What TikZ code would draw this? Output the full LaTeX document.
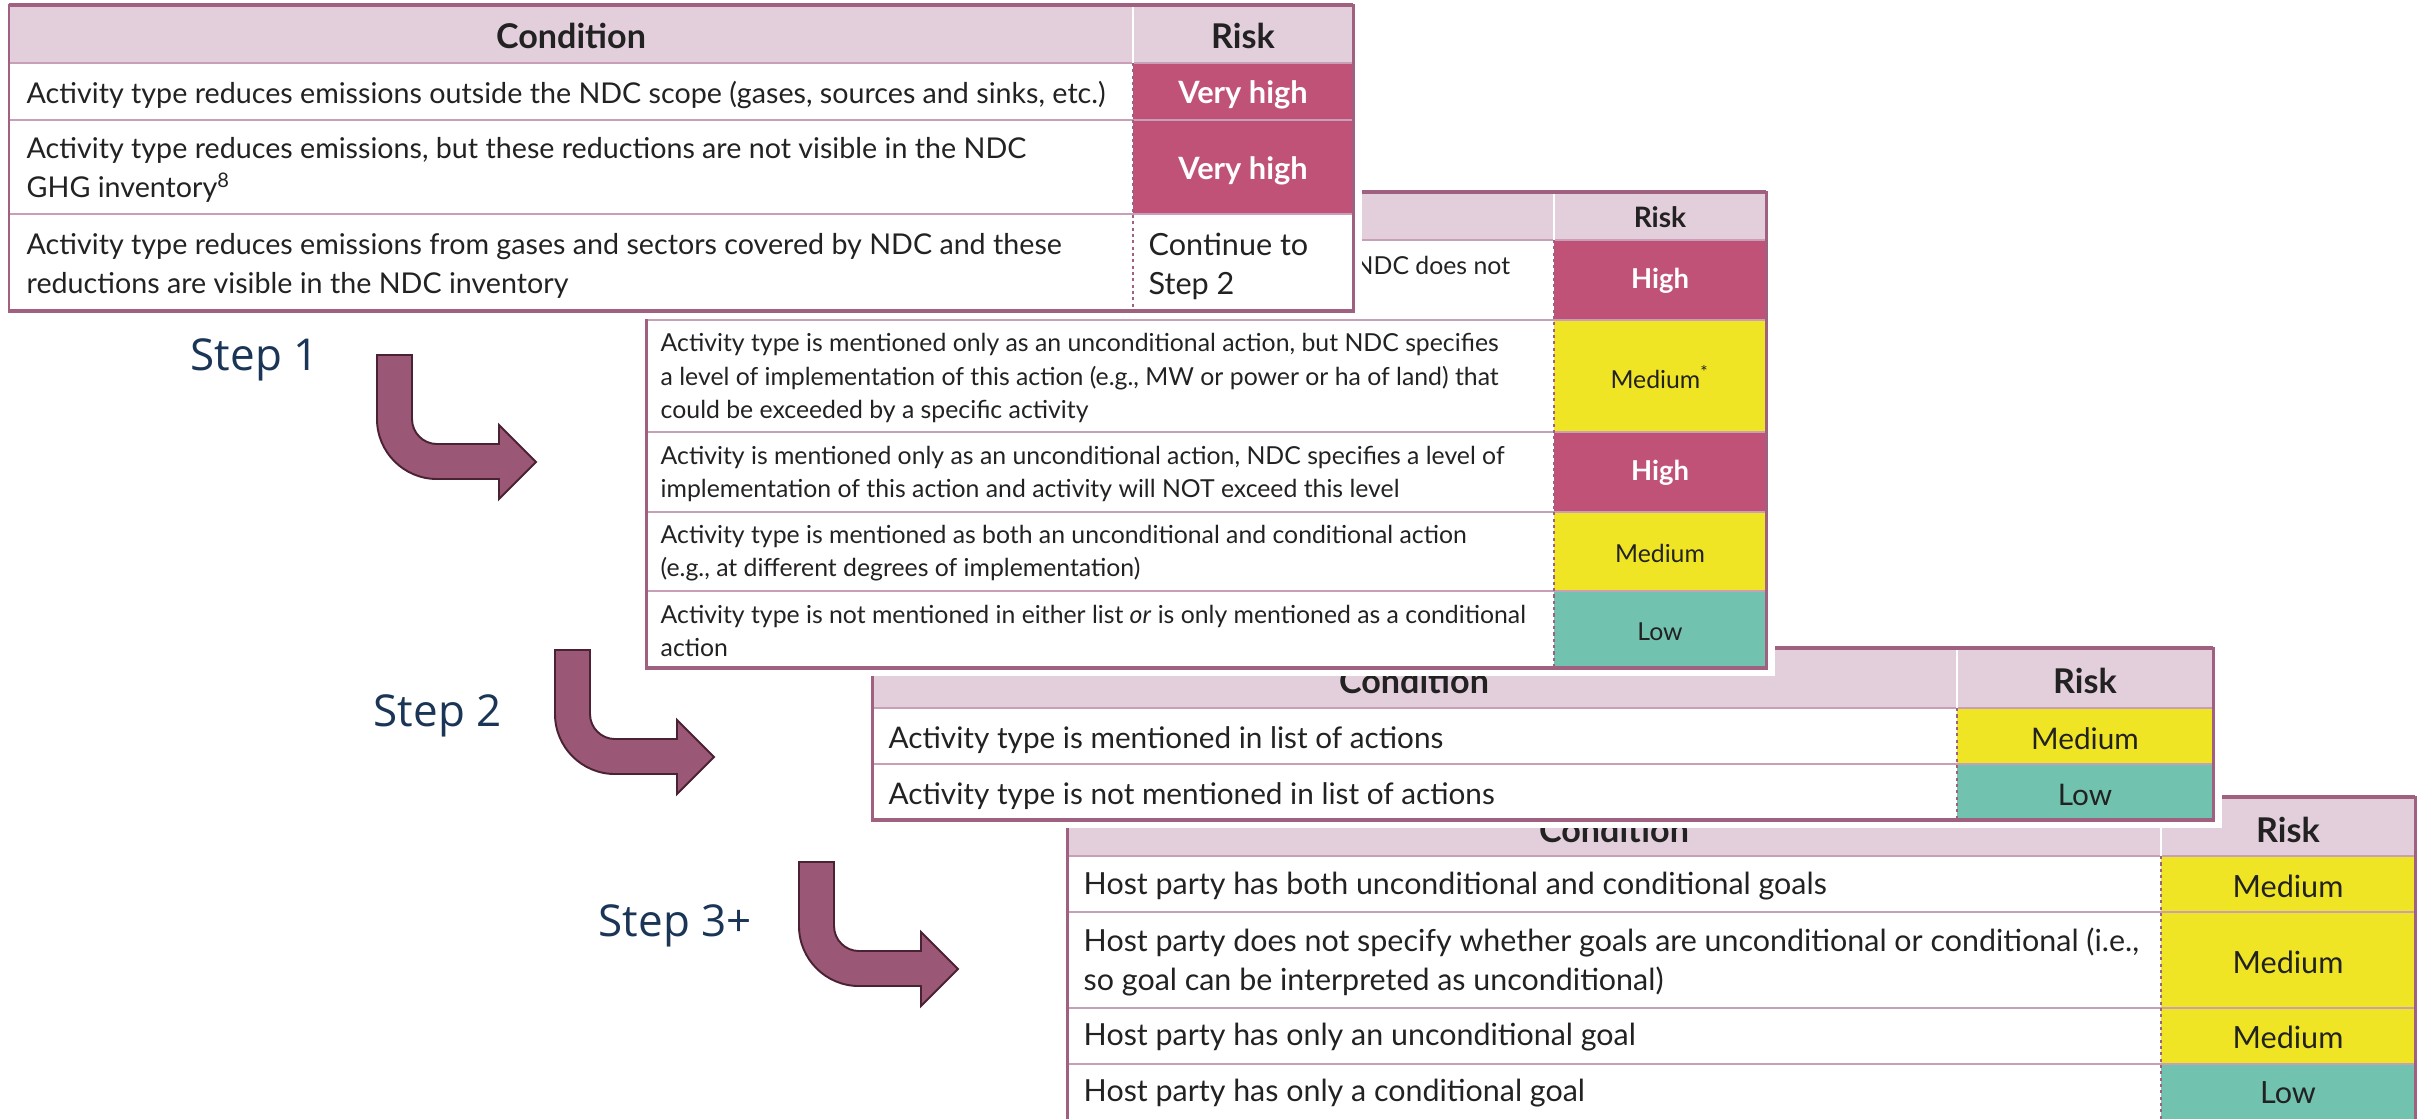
\documentclass[tikz,border=0pt]{standalone}
\usepackage{fontspec}
\setmainfont{Lato}
\newfontfamily\stepfont{Open Sans}
\usepackage{tikz}

\definecolor{tabline}{HTML}{A0607F}
\definecolor{rowline}{HTML}{C99FB8}
\definecolor{headfill}{HTML}{E3CFDB}
\definecolor{riskhigh}{HTML}{C05177}
\definecolor{riskmed}{HTML}{F0E524}
\definecolor{risklow}{HTML}{71C3B0}
\definecolor{arrowfill}{HTML}{9A5876}
\definecolor{arrowline}{HTML}{4A2233}
\definecolor{steptext}{HTML}{1B3556}
\definecolor{celltext}{HTML}{222222}

\newcommand{\fsz}[2]{\fontsize{#1}{#2}\selectfont}

\tikzset{
  cond/.style={anchor=west, inner sep=0pt, align=left, text=celltext, font=\fsz{8.15pt}{11.1pt}},
  condsmall/.style={cond, font=\fsz{7.05pt}{9.5pt}},
  condmid/.style={cond, font=\fsz{8.45pt}{11pt}},
  condbig/.style={cond, font=\fsz{8.65pt}{10.9pt}},
  head/.style={inner sep=0pt, text=celltext, font=\fsz{9.7pt}{11pt}\bfseries},
  headsmall/.style={head, font=\fsz{8pt}{10pt}\bfseries},
  riskdark/.style={inner sep=0pt, text=celltext, font=\fsz{8.45pt}{11pt}},
  riskdarkbig/.style={riskdark, font=\fsz{8.7pt}{11pt}},
  riskdarksmall/.style={riskdark, font=\fsz{7.05pt}{9.5pt}},
  riskwhite/.style={inner sep=0pt, text=white, font=\fsz{8.75pt}{11pt}\bfseries},
  riskwhitesmall/.style={riskwhite, font=\fsz{7.8pt}{9.5pt}\bfseries},
  rowsep/.style={draw=rowline, line width=0.55pt},
  colsep/.style={draw=tabline, line width=0.6pt, dash pattern=on 0.9pt off 0.9pt},
  frame/.style={draw=tabline, line width=0.85pt},
  frameedge/.style={draw=tabline, line width=1.3pt},
  steplabel/.style={anchor=base west, inner sep=0pt, text=steptext,
    font=\stepfont\fsz{12.5pt}{15pt}},
  steparrow/.style={fill=arrowfill, draw=arrowline, line width=0.55pt, line join=miter}
}

% left, top, right, bottom, divider, header bottom
\newcommand{\tablebase}[6]{%
  \fill[white] (#1-8,#2-8) rectangle (#3+9,#4+8);
  \fill[headfill] (#1,#2) rectangle (#3,#6);
}
\newcommand{\tableedges}[6]{%
  \draw[white, line width=0.7pt] (#5,#2) -- (#5,#6);
  \draw[colsep] (#5,#6) -- (#5,#4);
  \draw[frame] (#1,#2) rectangle (#3,#4);
  \draw[frameedge] (#1,#2) -- (#3,#2);
  \draw[frameedge] (#1,#4) -- (#3,#4);
}
% stem top left corner
\newcommand{\steparrow}[2]{%
  \filldraw[steparrow] (#1,#2) -- ++(35,0) -- ++(0,64)
    arc[start angle=180, end angle=270, radius=0.25cm] -- ++(62,0)
    -- ++(0,-19) -- ++(37,37) -- ++(-37,37) -- ++(0,-20) -- ++(-62,0)
    arc[start angle=270, end angle=180, radius=0.6cm] -- cycle;
}

\begin{document}
\begin{tikzpicture}[x=0.01cm, y=-0.01cm]
  \useasboundingbox (0,0) rectangle (2425,1118);
  \fill[white] (0,0) rectangle (2425,1118);
  \clip (0,0) rectangle (2425,1118);

  % step 3+ table
  \tablebase{1067}{797}{2415}{1130}{2161}{856}
  \fill[riskmed] (2161,856) rectangle (2415,1064);
  \fill[risklow] (2161,1064) rectangle (2415,1130);
  \foreach \y in {856,912,1008,1064}
    \draw[rowsep] (1067,\y) -- (2415,\y);
  \tableedges{1067}{797}{2415}{1130}{2161}{856}
  \node[head] (t4cond) at (1614,830) {Condition};
  \node[head] (t4risk) at (2288,830) {Risk};
  \node[condbig] (t4c1) at (1083,886) {Host party has both unconditional and conditional goals};
  \node[condbig] (t4c2) at (1083,962) {Host party does not specify whether goals are unconditional or conditional (i.e.,\\so goal can be interpreted as unconditional)};
  \node[condbig] (t4c3) at (1083,1037) {Host party has only an unconditional goal};
  \node[condbig] (t4c4) at (1083,1093) {Host party has only a conditional goal};
  \node[riskdarkbig] (t4k1) at (2288,886) {Medium};
  \node[riskdarkbig] (t4k2) at (2288,962) {Medium};
  \node[riskdarkbig] (t4k3) at (2288,1037) {Medium};
  \node[riskdarkbig] (t4k4) at (2288,1093) {Low};

  % step 2 table
  \tablebase{872}{648}{2213}{820}{1957}{708}
  \fill[riskmed] (1957,708) rectangle (2213,764);
  \fill[risklow] (1957,764) rectangle (2213,820);
  \foreach \y in {708,764}
    \draw[rowsep] (872,\y) -- (2213,\y);
  \tableedges{872}{648}{2213}{820}{1957}{708}
  \node[head] (t3cond) at (1414,681) {Condition};
  \node[head] (t3risk) at (2085,681) {Risk};
  \node[condmid] (t3c1) at (888,740) {Activity type is mentioned in list of actions};
  \node[condmid] (t3c2) at (888,796) {Activity type is not mentioned in list of actions};
  \node[riskdark] (t3k1) at (2085,739) {Medium};
  \node[riskdark] (t3k2) at (2085,795) {Low};

  % unconditional action table
  \tablebase{646}{192}{1766}{668}{1554}{240}
  \fill[riskhigh] (1554,240) rectangle (1766,320);
  \fill[riskmed] (1554,320) rectangle (1766,432);
  \fill[riskhigh] (1554,432) rectangle (1766,512);
  \fill[riskmed] (1554,512) rectangle (1766,591);
  \fill[risklow] (1554,591) rectangle (1766,668);
  \foreach \y in {240,320,432,512,591}
    \draw[rowsep] (646,\y) -- (1766,\y);
  \tableedges{646}{192}{1766}{668}{1554}{240}
  \node[headsmall] (t2risk) at (1660,217) {Risk};
  \node[condsmall] (t2c1) at (1354,265) {NDC does not};
  \node[condsmall] (t2c2) at (660,378) {Activity type is mentioned only as an unconditional action, but NDC specifies\\a level of implementation of this action (e.g., MW or power or ha of land) that\\could be exceeded by a specific activity};
  \node[condsmall] (t2c3) at (660,474) {Activity is mentioned only as an unconditional action, NDC specifies a level of\\implementation of this action and activity will NOT exceed this level};
  \node[condsmall] (t2c4) at (660,553) {Activity type is mentioned as both an unconditional and conditional action\\(e.g., at different degrees of implementation)};
  \node[condsmall] (t2c5) at (660,631) {Activity type is not mentioned in either list \textit{or} is only mentioned as a conditional\\action};
  \node[riskwhitesmall] (t2k1) at (1660,281) {High};
  \node[riskdarksmall] (t2k2) at (1660,377) {Medium\textsuperscript{*}};
  \node[riskwhitesmall] (t2k3) at (1660,473) {High};
  \node[riskdarksmall] (t2k4) at (1660,553) {Medium};
  \node[riskdarksmall] (t2k5) at (1660,632) {Low};

  % scope table
  \tablebase{9}{5}{1353}{311}{1133}{63}
  \fill[riskhigh] (1133,63) rectangle (1353,214);
  \foreach \y in {63,120,214}
    \draw[rowsep] (9,\y) -- (1353,\y);
  \tableedges{9}{5}{1353}{311}{1133}{63}
  \node[head] (t1cond) at (571,36) {Condition};
  \node[head] (t1risk) at (1243,36) {Risk};
  \node[cond] (t1c1) at (26,95) {Activity type reduces emissions outside the NDC scope (gases, sources and sinks, etc.)};
  \node[cond] (t1c2) at (26,170) {Activity type reduces emissions, but these reductions are not visible in the NDC\\GHG inventory\textsuperscript{8}};
  \node[cond] (t1c3) at (26,266) {Activity type reduces emissions from gases and sectors covered by NDC and these\\reductions are visible in the NDC inventory};
  \node[riskwhite] (t1k1) at (1243,95) {Very high};
  \node[riskwhite] (t1k2) at (1243,171) {Very high};
  \node[cond, font=\fsz{8.7pt}{11.1pt}] (t1k3) at (1148,266) {Continue to\\Step 2};

  % steps
  \node[steplabel] (step1) at (190,370) {Step 1};
  \node[steplabel] (step2) at (373,726) {Step 2};
  \node[steplabel] (step3) at (598,936) {Step 3+};
  \steparrow{377}{355}
  \steparrow{555}{650}
  \steparrow{799}{862}
\end{tikzpicture}
\end{document}
